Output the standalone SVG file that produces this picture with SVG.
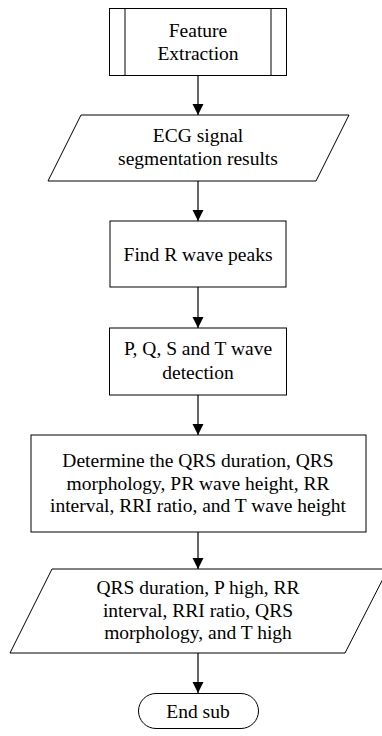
<svg xmlns="http://www.w3.org/2000/svg" width="382" height="736" viewBox="0 0 382 736">
<style>
.s{fill:#fff;stroke:#000;stroke-width:1}
.t{font-family:'Liberation Serif','Times New Roman',Times,serif;font-size:19.5px;fill:#000;text-anchor:middle}
.c{stroke:#000;stroke-width:1.2;fill:none;marker-end:url(#ah)}
</style>
<defs>
<marker id="ah" markerUnits="userSpaceOnUse" markerWidth="12" markerHeight="12" viewBox="0 0 12 12" refX="11" refY="6" orient="auto">
<path d="M0,0.5 L11,6 L0,11.5 Z" fill="#000"/>
</marker>
</defs>
<rect width="382" height="736" fill="#fff"/>
<g id="connectors">
<line class="c" x1="198" y1="76" x2="198" y2="115"/>
<line class="c" x1="198" y1="181" x2="198" y2="221"/>
<line class="c" x1="198" y1="287" x2="198" y2="328"/>
<line class="c" x1="198" y1="395" x2="198" y2="435"/>
<line class="c" x1="198" y1="532" x2="198" y2="569"/>
<line class="c" x1="198" y1="653" x2="198" y2="693"/>
</g>
<g id="feature-extraction">
<rect class="s" x="109.5" y="8.5" width="177" height="67"/>
<line class="s" x1="125" y1="8.5" x2="125" y2="75.5"/>
<line class="s" x1="271" y1="8.5" x2="271" y2="75.5"/>
<text class="t" font-family="Liberation Serif, serif" x="198" y="37">Feature</text>
<text class="t" font-family="Liberation Serif, serif" x="198" y="60">Extraction</text>
</g>
<g id="ecg-segmentation">
<polygon class="s" points="81,115 349,115 316,181 48,181"/>
<text class="t" font-family="Liberation Serif, serif" x="198" y="142">ECG signal</text>
<text class="t" font-family="Liberation Serif, serif" x="198" y="165">segmentation results</text>
</g>
<g id="find-r">
<rect class="s" x="110" y="221" width="176" height="66"/>
<text class="t" font-family="Liberation Serif, serif" x="198" y="261">Find R wave peaks</text>
</g>
<g id="pqst">
<rect class="s" x="109.5" y="328" width="177" height="67"/>
<text class="t" font-family="Liberation Serif, serif" x="198" y="355">P, Q, S and T wave</text>
<text class="t" font-family="Liberation Serif, serif" x="198" y="379">detection</text>
</g>
<g id="determine">
<rect class="s" x="31" y="435" width="335" height="97"/>
<text class="t" font-family="Liberation Serif, serif" x="198" y="467">Determine the QRS duration, QRS</text>
<text class="t" font-family="Liberation Serif, serif" x="198" y="490">morphology, PR wave height, RR</text>
<text class="t" font-family="Liberation Serif, serif" x="198" y="512">interval, RRI ratio, and T wave height</text>
</g>
<g id="features-output">
<polygon class="s" points="52,569 388,569 345,653 10,653"/>
<text class="t" font-family="Liberation Serif, serif" x="198" y="594">QRS duration, P high, RR</text>
<text class="t" font-family="Liberation Serif, serif" x="198" y="617">interval, RRI ratio, QRS</text>
<text class="t" font-family="Liberation Serif, serif" x="198" y="639">morphology, and T high</text>
</g>
<g id="end-sub">
<rect class="s" x="138.5" y="693.5" width="120" height="35" rx="17.5" ry="17.5"/>
<text class="t" font-family="Liberation Serif, serif" x="198" y="718">End sub</text>
</g>
</svg>
